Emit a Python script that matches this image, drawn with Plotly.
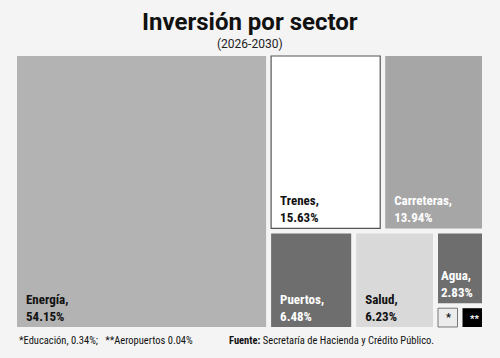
import plotly.graph_objects as go

# ---- data ----
sectors = ["Energía", "Trenes", "Carreteras", "Puertos", "Salud", "Agua", "Educación", "Aeropuertos"]
pct = [54.15, 15.63, 13.94, 6.48, 6.23, 2.83, 0.34, 0.04]
# footnote boxes are drawn at a fixed, readable size in the original (not to scale)
footnote_box_size = [0.45, 0.45]
cell_labels = ["Energía,", "Trenes,", "Carreteras,", "Puertos,", "Salud,", "Agua,", "*", "**"]

# grouping that reproduces the editorial layout
groups = ["Total", "Resto", "Arriba", "Abajo", "Chicos", "Notas"]
group_parents = ["", "Total", "Resto", "Resto", "Abajo", "Chicos"]
leaf_parents = ["Total", "Arriba", "Arriba", "Abajo", "Abajo", "Chicos", "Notas", "Notas"]
# drawing order (children in left-to-right / top-to-bottom order)
order = ["Total", "Energía", "Resto", "Arriba", "Trenes", "Carreteras", "Abajo",
         "Puertos", "Salud", "Chicos", "Agua", "Notas", "Educación", "Aeropuertos"]

BG = "#f4f4f4"
leaf_colors = ["#b3b3b3", "#ffffff", "#a6a6a6", "#6e6e6e", "#d9d9d9", "#6e6e6e", "#ececec", "#000000"]
leaf_text_colors = ["#111111", "#111111", "#ffffff", "#ffffff", "#111111", "#ffffff", "#111111", "#ffffff"]
leaf_line_w = [0, 1.2, 0, 0, 0, 0, 1, 0]
leaf_line_c = ["#555555", "#555555", "#555555", "#555555", "#555555", "#555555", "#777777", "#000000"]

sizes = pct[:6] + footnote_box_size

node = {}
for g, p in zip(groups, group_parents):
    node[g] = dict(parent=p, value=0, text="", color=BG, tcolor=BG, lw=0, lc=BG)
for i, s in enumerate(sectors):
    if i < 6:
        pad = "\u00a0\u00a0" if i != 5 else ""
        t = f"{pad}{cell_labels[i]}<br>{pad}{pct[i]:.2f}%"
    else:
        t = "\u00a0\u00a0" + cell_labels[i]
    node[s] = dict(parent=leaf_parents[i], value=sizes[i], text=t, color=leaf_colors[i],
                   tcolor=leaf_text_colors[i], lw=leaf_line_w[i], lc=leaf_line_c[i])

ids = order
col = lambda k: [node[n][k] for n in ids]

LABEL_FONT = "Liberation Sans Narrow, Roboto Condensed, Roboto, sans-serif"

fig = go.Figure(go.Treemap(
    ids=ids, labels=ids, parents=col("parent"), values=col("value"),
    branchvalues="remainder", sort=False,
    text=col("text"), texttemplate="%{text}", textposition="bottom left",
    textfont=dict(family=LABEL_FONT, size=13, color=col("tcolor"), weight="bold"),
    marker=dict(colors=col("color"), line=dict(width=col("lw"), color=col("lc")),
                pad=dict(t=0, l=0, r=0, b=0)),
    tiling=dict(packing="slice-dice", pad=5),
    pathbar=dict(visible=False),
    hoverinfo="skip",
    root=dict(color=BG),
))

annos = [
    dict(text="<b>Inversión por sector</b>", x=0.501, y=1.125, xanchor="center", yanchor="middle",
         font=dict(family="Roboto", size=24, color="#111111", weight=900)),
    dict(text="(2026-2030)", x=0.501, y=1.044, xanchor="center", yanchor="middle",
         font=dict(family="Roboto", size=12, color="#222222")),
    dict(text="*Educación, 0.34%;\u00a0\u00a0\u00a0**Aeropuertos 0.04%", x=0, y=-0.048,
         xanchor="left", yanchor="middle",
         font=dict(family=LABEL_FONT, size=10.5, color="#111111")),
    dict(text="<b>Fuente:</b> Secretaría de Hacienda y Crédito Público.", x=0.4516, y=-0.048,
         xanchor="left", yanchor="middle",
         font=dict(family=LABEL_FONT, size=10.5, color="#111111")),
]
for a in annos:
    a.update(xref="paper", yref="paper", showarrow=False)

fig.update_layout(
    width=500, height=358,
    margin=dict(l=17, r=18, t=56, b=31),
    paper_bgcolor=BG, plot_bgcolor=BG,
    annotations=annos,
)
fig.write_html("out.html", config={"displayModeBar": False},
               post_script="document.body.style.margin='0';")
